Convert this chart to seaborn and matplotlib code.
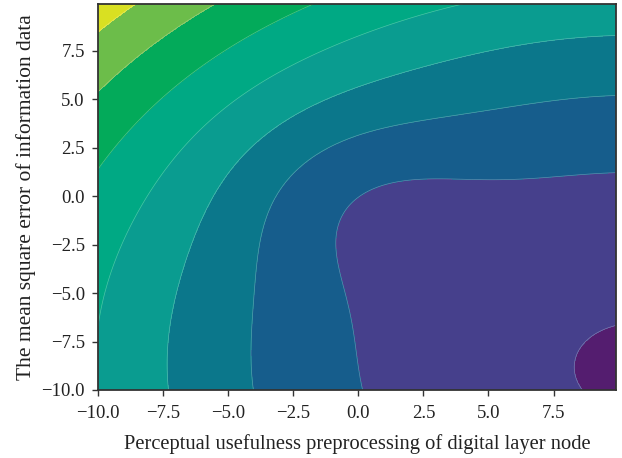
import numpy as np
import matplotlib
matplotlib.use("Agg")
import matplotlib.pyplot as plt
import seaborn as sns

# Grid of the two inputs
x_nodes = np.arange(-10.0, 10.0, 0.1)
y_errors = np.arange(-10.0, 10.0, 0.1)

# Filled contour levels and band colours (low -> high)
contour_levels = np.arange(0, 10)
band_colors = ["#541d6f", "#46408c", "#165d8c", "#0b778b", "#0a9c90",
               "#00a984", "#03aa5a", "#6cbd4a", "#d9e022"]

# Error surface: tilted quadratic bowl with a shallow valley along the diagonal
bowl_x_weight, bowl_x_centre = 0.0092474, 10.847
bowl_y_weight, bowl_y_centre = 0.010317, -8.9284
bowl_cross = -0.00021718
valley_depth = 0.82151
valley_s0, valley_t0 = -0.010685, -0.22043
valley_ws, valley_wt = 24.815, 20.444
surface_offset = 0.94202

tick_values = [-10.0, -7.5, -5.0, -2.5, 0.0, 2.5, 5.0, 7.5]

sns.set_theme(style="ticks")
plt.rcParams["font.family"] = ["Liberation Serif", "DejaVu Serif"]
plt.rcParams["axes.unicode_minus"] = True

X, Y = np.meshgrid(x_nodes, y_errors)
S = (Y - X) / np.sqrt(2)
T = (X + Y) / np.sqrt(2)
Z = (surface_offset
     + bowl_x_weight * (bowl_x_centre - X) ** 2
     + bowl_y_weight * (Y - bowl_y_centre) ** 2
     + bowl_cross * (bowl_x_centre - X) * (Y - bowl_y_centre)
     - valley_depth * np.exp(-((S - valley_s0) ** 2 / valley_ws
                               + (T - valley_t0) ** 2 / valley_wt)))

fig, ax = plt.subplots(figsize=(6.22, 4.58), dpi=100)
fig.subplots_adjust(left=98 / 622, right=616 / 622, top=1 - 4 / 458, bottom=1 - 390 / 458)

ax.contourf(X, Y, Z, levels=contour_levels, colors=band_colors)
ax.contour(X, Y, Z, levels=contour_levels[1:-1], colors="white", linewidths=0.5, alpha=0.3)

ax.set_xticks(tick_values)
ax.set_yticks(tick_values)
ax.tick_params(labelsize=13.5, length=4.5, width=1, color="#333333", labelcolor="#222222")
ax.tick_params(axis="x", pad=6)
ax.tick_params(axis="y", pad=5)
for s in ax.spines.values():
    s.set_color("#333333")
    s.set_linewidth(1.3)

ax.set_xlabel("Perceptual usefulness preprocessing of digital layer node",
              fontsize=14.8, color="#222222", labelpad=9)
ax.set_ylabel("The mean square error of information data",
              fontsize=15.5, color="#222222", labelpad=4)

fig.savefig("out.png", dpi=100)
